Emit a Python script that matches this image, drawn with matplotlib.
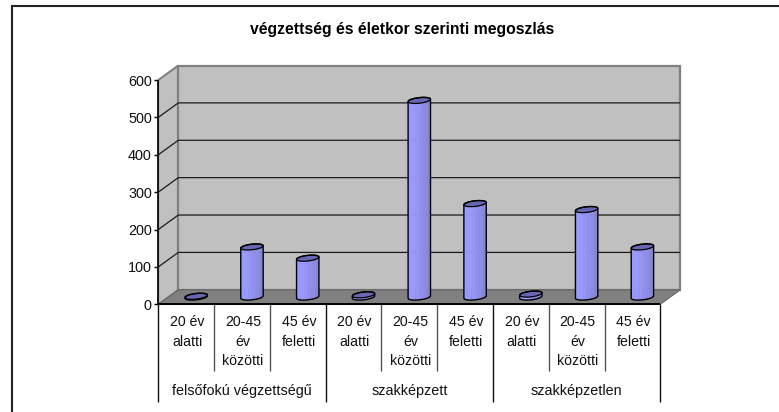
import numpy as np
import matplotlib
matplotlib.use("Agg")
import matplotlib.pyplot as plt
from matplotlib.patches import Polygon
from matplotlib.lines import Line2D

plt.rcParams['font.family'] = ['Liberation Sans', 'DejaVu Sans']

title = "végzettség és életkor szerinti megoszlás"
groups = ["felsőfokú végzettségű", "szakképzett", "szakképzetlen"]
age_labels = ["20 év\nalatti", "20-45\név\nközötti", "45 év\nfeletti"] * 3
values = [2, 134, 104, 6, 526, 250, 8, 234, 134]
y_ticks = [0, 100, 200, 300, 400, 500, 600]

W, H = 779, 412
L, R, B, T = 158.3, 660.3, 304.3, 80.0   # front plane, pixels
DX, DY = 20.0, 14.5                       # 3D depth, pixels
n = len(values)
fig = plt.figure(figsize=(W / 100, H / 100), dpi=100, facecolor="white")
ax = fig.add_axes([L / W, 1 - B / H, (R - L) / W, (B - T) / H])
ax.set_xlim(0, n)
ax.set_ylim(0, 600)
ax.patch.set_visible(False)
for s in ax.spines.values():
    s.set_visible(False)
PX = n / (R - L)          # data units per pixel
PY = 600 / (B - T)
ddx, ddy = DX * PX, DY * PY

def poly(pts, **kw):
    ax.add_patch(Polygon(pts, closed=True, clip_on=False, **kw))

def line(xs, ys, color="black", lw=1.0, z=3):
    ax.add_line(Line2D(xs, ys, color=color, lw=lw, clip_on=False, zorder=z,
                       solid_capstyle="butt"))

# walls
grey = "#808080"
poly([(0, 0), (ddx, ddy), (ddx, 600 + ddy), (0, 600)], fc="#C0C0C0", ec=grey, lw=1.2, zorder=1)
poly([(ddx, ddy), (n + ddx, ddy), (n + ddx, 600 + ddy), (ddx, 600 + ddy)],
     fc="#C0C0C0", ec=grey, lw=1.6, zorder=1)
poly([(0, 0), (n, 0), (n + ddx, ddy), (ddx, ddy)], fc="#808080", ec="#666666", lw=0.8, zorder=2)

# gridlines
for v in y_ticks[1:-1]:
    line([0, ddx, n + ddx * 0.98], [v, v + ddy, v + ddy], color="#1a1a1a", lw=0.9, z=2.5)
line([0, ddx], [600, 600 + ddy], color=grey, lw=1.2, z=2.5)

# cylinders
RX, RY, SK = 11.2, 2.8, 1.2
t = np.linspace(0, 2 * np.pi, 60)
body_cols = ["#9999FF", "#9999FF", "#9595F6", "#9090EC", "#8C8CE4", "#8686D8"]

def ell(cx, cy, tt):
    return (cx + RX * np.cos(tt) * PX, cy + (RY * np.sin(tt) + SK * np.cos(tt)) * PY)

for i, v in enumerate(values):
    cx = i + 0.5 + 0.5 * ddx
    base = 0.5 * ddy
    z = 4 + i * 0.01
    # body strips
    edges = np.linspace(-1, 1, len(body_cols) + 1)
    for a, b, c in zip(edges[:-1], edges[1:], body_cols):
        ta = np.arccos(np.clip(a, -1, 1))
        tb = np.arccos(np.clip(b, -1, 1))
        ts = np.linspace(ta, tb, 8)
        top_x, top_y = ell(cx, v + base, ts)
        bot_x, bot_y = ell(cx, base, -ts)
        pts = list(zip(top_x, top_y)) + list(zip(bot_x[::-1], bot_y[::-1]))
        poly(pts, fc=c, ec=c, lw=0.2, zorder=z)
    # outline
    lo = np.linspace(np.pi, 2 * np.pi, 30)
    bx, by = ell(cx, base, lo)
    up = np.linspace(0, np.pi, 30)
    tx, ty = ell(cx, v + base, up)
    line(np.r_[bx, tx, bx[0]], np.r_[by, ty, by[0]], lw=1.0, z=z + 0.002)
    ex, ey = ell(cx, v + base, t)
    poly(list(zip(ex, ey)), fc="#6666B3", ec="black", lw=0.9, zorder=z + 0.001)

# axis lines
line([0, n], [0, 0], lw=1.4, z=3.5)
line([0, 0], [0, 600], lw=1.2, z=3.5)
ax.set_yticks(y_ticks, [str(v) for v in y_ticks])
ax.tick_params(axis="y", length=3.2, width=1.0, pad=1.5, labelsize=10.4, labelcolor="#111111")
ax.set_xticks([])

def yd(px):   # pixel row below axis -> data y
    return (B - px) * PY

# category dividers
for i in range(n + 1):
    if i % 3 == 0:
        line([i, i], [0, yd(401.7)], color="#111111", lw=1.0)
    else:
        line([i, i], [0, yd(370.7)], color="#555555", lw=1.0)

# category labels
for i, lab in enumerate(age_labels):
    ax.text(i + 0.52, yd(315.5), lab, ha="center", va="top", fontsize=10.2,
            linespacing=1.49, color="#111111", clip_on=False)
for g, name in enumerate(groups):
    ax.text(3 * g + 1.5, yd(391.5), name, ha="center", va="center", fontsize=10.4,
            color="#111111", clip_on=False)

# chart area border (top and left only reach the picture edge)
fig.add_artist(Line2D([11.5 / W, 11.5 / W, 1], [0, 1 - 5.8 / H, 1 - 5.8 / H],
                      color="#222222", lw=1.5, solid_joinstyle="miter"))

fig.text(402 / W, 1 - 29.5 / H, title, ha="center", va="center",
         fontsize=11.3, fontweight="bold", color="black")

fig.savefig("out.png", dpi=100, facecolor="white")
